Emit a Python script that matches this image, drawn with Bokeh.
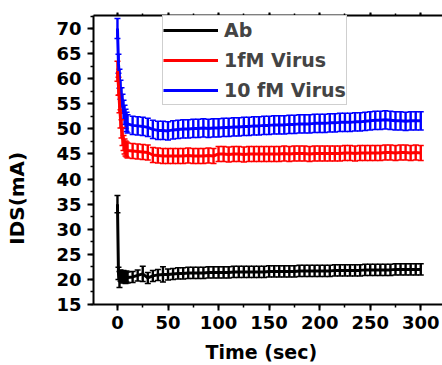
import math
from bokeh.plotting import figure
from bokeh.models import (Range1d, LinearAxis, SingleIntervalTicker, Whisker, TeeHead,
                          ColumnDataSource, Legend, LegendItem, CustomLabelingPolicy)
from bokeh.embed import file_html
from bokeh.resources import INLINE

# ---- data ----
time_s = [0, 1, 2, 3, 4, 5, 6, 7, 8, 9, 10,
          15, 20, 25, 30, 35, 40, 45, 50, 55, 60, 65, 70, 75, 80, 85, 90, 95, 100,
          105, 110, 115, 120, 125, 130, 135, 140, 145, 150,
          155, 160, 165, 170, 175, 180, 185, 190, 195, 200,
          205, 210, 215, 220, 225, 230, 235, 240, 245, 250,
          255, 260, 265, 270, 275, 280, 285, 290, 295, 300]

ab = [35.0, 21.2, 20.0, 20.8, 20.6, 20.4, 20.7, 20.5, 20.3, 20.6, 20.4,
      20.5, 20.8, 21.1, 20.3, 20.7, 20.9, 21.0, 21.0, 21.1, 21.2, 21.2, 21.3, 21.3, 21.3, 21.3, 21.4, 21.4, 21.4,
      21.4, 21.4, 21.5, 21.5, 21.5, 21.5, 21.5, 21.5, 21.5, 21.6,
      21.6, 21.6, 21.6, 21.6, 21.6, 21.7, 21.7, 21.7, 21.7, 21.7,
      21.7, 21.7, 21.8, 21.8, 21.8, 21.8, 21.8, 21.8, 21.9, 21.9,
      21.9, 21.9, 21.9, 21.9, 22.0, 22.0, 22.0, 22.0, 22.0, 22.0]
ab_err = [1.7, 1.2, 1.6, 1.1, 1.1, 1.1, 1.1, 1.1, 1.1, 1.1, 1.1,
          1.1, 1.1, 1.5, 1.1, 1.1, 1.1, 1.5, 1.1, 1.1, 1.1, 1.1, 1.1, 1.1, 1.1, 1.1, 1.1, 1.1, 1.1,
          1.1, 1.1, 1.1, 1.1, 1.1, 1.1, 1.1, 1.1, 1.1, 1.1,
          1.1, 1.1, 1.1, 1.1, 1.1, 1.1, 1.1, 1.1, 1.1, 1.1,
          1.1, 1.1, 1.1, 1.1, 1.1, 1.1, 1.1, 1.1, 1.1, 1.1,
          1.1, 1.1, 1.1, 1.1, 1.1, 1.1, 1.1, 1.1, 1.1, 1.1]

v1 = [61.5, 58.5, 55.0, 52.0, 50.0, 48.5, 47.2, 46.5, 46.1, 45.9, 45.7,
      45.6, 45.5, 45.4, 45.3, 44.8, 44.7, 44.6, 44.6, 44.6, 44.6, 44.6, 44.7, 44.6, 44.6, 44.6, 44.7, 44.6, 45.0,
      45.0, 44.9, 45.0, 45.0, 44.9, 45.0, 45.0, 45.0, 45.0, 45.0,
      45.0, 45.0, 45.1, 45.0, 45.1, 45.1, 45.1, 45.0, 45.1, 45.1,
      45.1, 45.1, 45.1, 45.1, 45.2, 45.2, 45.1, 45.2, 45.2, 45.2,
      45.2, 45.2, 45.3, 45.3, 45.2, 45.3, 45.3, 45.2, 45.3, 45.2]
v1_err = [2.0, 1.8, 1.8, 1.8, 1.8, 1.8, 1.5, 1.5, 1.5, 1.5, 1.5,
          1.5, 1.5, 1.5, 1.5, 1.5, 1.5, 1.5, 1.5, 1.5, 1.5, 1.5, 1.5, 1.5, 1.5, 1.5, 1.5, 1.5, 1.5,
          1.5, 1.5, 1.5, 1.5, 1.5, 1.5, 1.5, 1.5, 1.5, 1.5,
          1.5, 1.5, 1.5, 1.5, 1.5, 1.5, 1.5, 1.5, 1.5, 1.5,
          1.5, 1.5, 1.5, 1.5, 1.5, 1.5, 1.5, 1.5, 1.5, 1.5,
          1.5, 1.5, 1.5, 1.5, 1.5, 1.5, 1.5, 1.5, 1.5, 1.5]

v10 = [70.0, 63.0, 60.0, 57.8, 56.3, 55.0, 53.8, 52.8, 52.0, 51.4, 51.0,
       50.7, 50.6, 50.5, 50.3, 49.9, 49.7, 49.7, 49.6, 49.8, 49.9, 50.0, 50.0, 50.1, 50.1, 50.2, 50.1, 50.2, 50.2,
       50.3, 50.3, 50.4, 50.4, 50.5, 50.5, 50.6, 50.6, 50.7, 50.7,
       50.8, 50.8, 50.8, 50.9, 50.9, 51.0, 51.0, 51.0, 51.1, 51.1,
       51.1, 51.2, 51.2, 51.3, 51.3, 51.3, 51.4, 51.4, 51.5, 51.6,
       51.7, 51.7, 51.8, 51.7, 51.6, 51.6, 51.5, 51.6, 51.6, 51.6]
v10_err = [2.0, 1.9, 1.9, 1.9, 1.9, 1.9, 1.9, 1.9, 1.9, 1.9, 1.8,
           1.8, 1.8, 1.8, 1.8, 1.8, 1.8, 1.8, 1.8, 1.8, 1.8, 1.8, 1.8, 1.8, 1.8, 1.8, 1.8, 1.8, 1.8,
           1.8, 1.8, 1.8, 1.8, 1.8, 1.8, 1.8, 1.8, 1.8, 1.8,
           1.8, 1.8, 1.8, 1.8, 1.8, 1.8, 1.8, 1.8, 1.8, 1.8,
           1.8, 1.8, 1.8, 1.8, 1.8, 1.8, 1.8, 1.8, 1.8, 1.8,
           1.8, 1.8, 1.8, 1.8, 1.8, 1.8, 1.8, 1.8, 1.8, 1.8]

series_names = ["Ab", "1fM Virus", "10 fM Virus"]
series_colors = ["#000000", "#ff0000", "#0000ff"]
x_ticks_interval = 50
y_ticks_interval = 5
y_label = "IDS(mA)"
x_label = "Time (sec)"

FONT = "DejaVu Sans"

p = figure(width=442, height=365, output_backend="svg", toolbar_location=None,
           x_range=Range1d(-23.7, 321.5), y_range=Range1d(15, 72.6),
           min_border_left=93, min_border_right=0, min_border_top=15, min_border_bottom=59)
p.outline_line_color = None
p.grid.visible = False
p.background_fill_color = "white"

p.xaxis.ticker = SingleIntervalTicker(interval=x_ticks_interval, num_minor_ticks=2)
p.yaxis.ticker = SingleIntervalTicker(interval=y_ticks_interval, num_minor_ticks=2)

for ax in (p.xaxis[0], p.yaxis[0]):
    ax.axis_line_width = 2
    ax.major_tick_line_width = 2
    ax.minor_tick_line_width = 1.5
    ax.major_tick_out = 6
    ax.major_tick_in = 0
    ax.minor_tick_out = 3
    ax.minor_tick_in = 0
    ax.major_label_text_font = FONT
    ax.major_label_text_font_style = "bold"
    ax.major_label_text_font_size = "18px"
    ax.major_label_text_color = "black"
    ax.axis_label_text_font = FONT
    ax.axis_label_text_font_style = "bold"
    ax.axis_label_text_font_size = "20px"
    ax.axis_label_text_color = "black"

p.xaxis.axis_label = x_label + "\u00a0" * 2
p.xaxis.axis_label_standoff = 9
p.xaxis.axis_label_text_font_size = "19px"
# trailing no-break spaces shift the rotated label down along the axis
p.yaxis.axis_label = y_label + "\u00a0" * 11
p.yaxis.axis_label_standoff = 24
p.yaxis.major_label_standoff = 6

top = LinearAxis(ticker=SingleIntervalTicker(interval=x_ticks_interval, num_minor_ticks=2))
top.axis_line_width = 2
top.major_tick_line_width = 2
top.minor_tick_line_width = 1.5
top.major_tick_out = 3
top.major_tick_in = 0
top.minor_tick_out = 2
top.minor_tick_in = 0
top.major_label_text_font_size = "1px"
top.major_label_standoff = 0
top.major_label_policy = CustomLabelingPolicy(code="return null")
p.add_layout(top, "above")

renderers = {}
data = [(ab, ab_err), (v1, v1_err), (v10, v10_err)]
draw_order = [2, 1, 0]
for i in draw_order:
    vals, err = data[i]
    c = series_colors[i]
    src = ColumnDataSource(dict(t=time_s, y=vals,
                                lo=[v - e for v, e in zip(vals, err)],
                                up=[v + e for v, e in zip(vals, err)]))
    w = Whisker(base="t", lower="lo", upper="up", source=src,
                line_color=c, line_width=2.4,
                upper_head=TeeHead(size=6, line_color=c, line_width=1.5),
                lower_head=TeeHead(size=6, line_color=c, line_width=1.5))
    p.add_layout(w)
    r = p.line("t", "y", source=src, line_color=c, line_width=3)
    renderers[i] = r

legend = Legend(items=[LegendItem(label=series_names[i], renderers=[renderers[i]]) for i in range(3)],
                location=(69, 199))
legend.label_text_font = FONT
legend.label_text_font_style = "bold"
legend.label_text_font_size = "19px"
legend.glyph_width = 55
legend.glyph_height = 28
legend.label_height = 28
legend.label_standoff = 6
legend.padding = 0
legend.spacing = 2
legend.margin = 0
legend.border_line_color = "#a0a0a0"
legend.border_line_width = 1
legend.background_fill_alpha = 1
p.add_layout(legend, "center")

open("out.html", "w").write(file_html(p, INLINE))
